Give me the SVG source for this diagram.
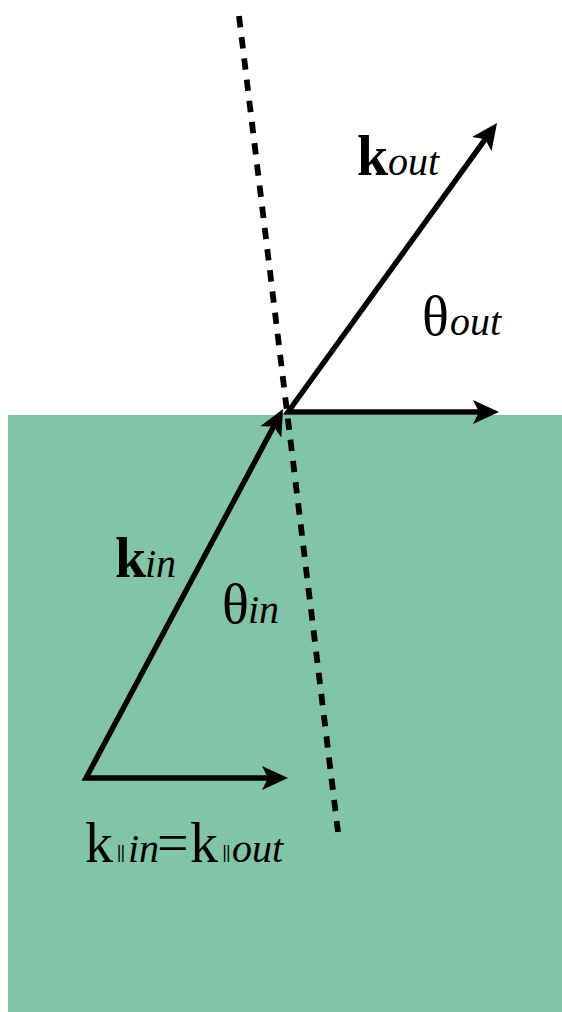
<svg xmlns="http://www.w3.org/2000/svg" width="562" height="1012" viewBox="0 0 562 1012">
<style>
.ln{fill:none;stroke:#000;stroke-width:5.4;stroke-linejoin:miter;stroke-miterlimit:10}
.dash{fill:none;stroke:#000;stroke-width:5.8;stroke-dasharray:11.4 9.94}
.t{font-size:56px;fill:#000}
.b{font-weight:bold}
.s{font-style:italic;font-size:40px}
.bar{font-size:19px;font-weight:bold;fill:#000;letter-spacing:-0.5px}
</style>
<defs>
<marker id="ah" markerUnits="userSpaceOnUse" markerWidth="26" markerHeight="24" viewBox="0 0 26 24" refX="6" refY="12" orient="auto-start-reverse">
<path d="M0,0 L26,12 L0,24 L6,12 Z" fill="#000"/>
</marker>
</defs>
<rect id="medium" x="8" y="415" width="554" height="597" fill="#82C4A7"/>
<g id="connectors">
<line id="normal" class="dash" x1="239" y1="16" x2="338" y2="832"/>
<path id="k-in-and-parallel" class="ln" d="M273.6,426.6 L86,778 L268,778" marker-start="url(#ah)" marker-end="url(#ah)"/>
<path id="k-out-and-parallel" class="ln" d="M485.3,139.2 L288,412 L479,412" marker-start="url(#ah)" marker-end="url(#ah)"/>
</g>
<g font-family="Liberation Serif, Times New Roman, DejaVu Serif, serif">
<g id="label-kout"><text class="t" y="175"><tspan class="b" x="357">k</tspan><tspan class="s" x="388">out</tspan></text></g>
<g id="label-theta-out"><text class="t" y="335"><tspan x="422">θ</tspan><tspan class="s" x="450">out</tspan></text></g>
<g id="label-kin"><text class="t" y="577"><tspan class="b" x="115">k</tspan><tspan class="s" x="145">in</tspan></text></g>
<g id="label-theta-in"><text class="t" y="623"><tspan x="222">θ</tspan><tspan class="s" x="248">in</tspan></text></g>
<g id="label-kpar">
<text class="t" y="862"><tspan x="85">k</tspan><tspan class="s" x="128">in</tspan><tspan x="157">=</tspan><tspan x="190">k</tspan><tspan class="s" x="232">out</tspan></text>
<text class="bar" x="117" y="858">||</text>
<text class="bar" x="222.5" y="858">||</text>
</g>
</g>
</svg>
